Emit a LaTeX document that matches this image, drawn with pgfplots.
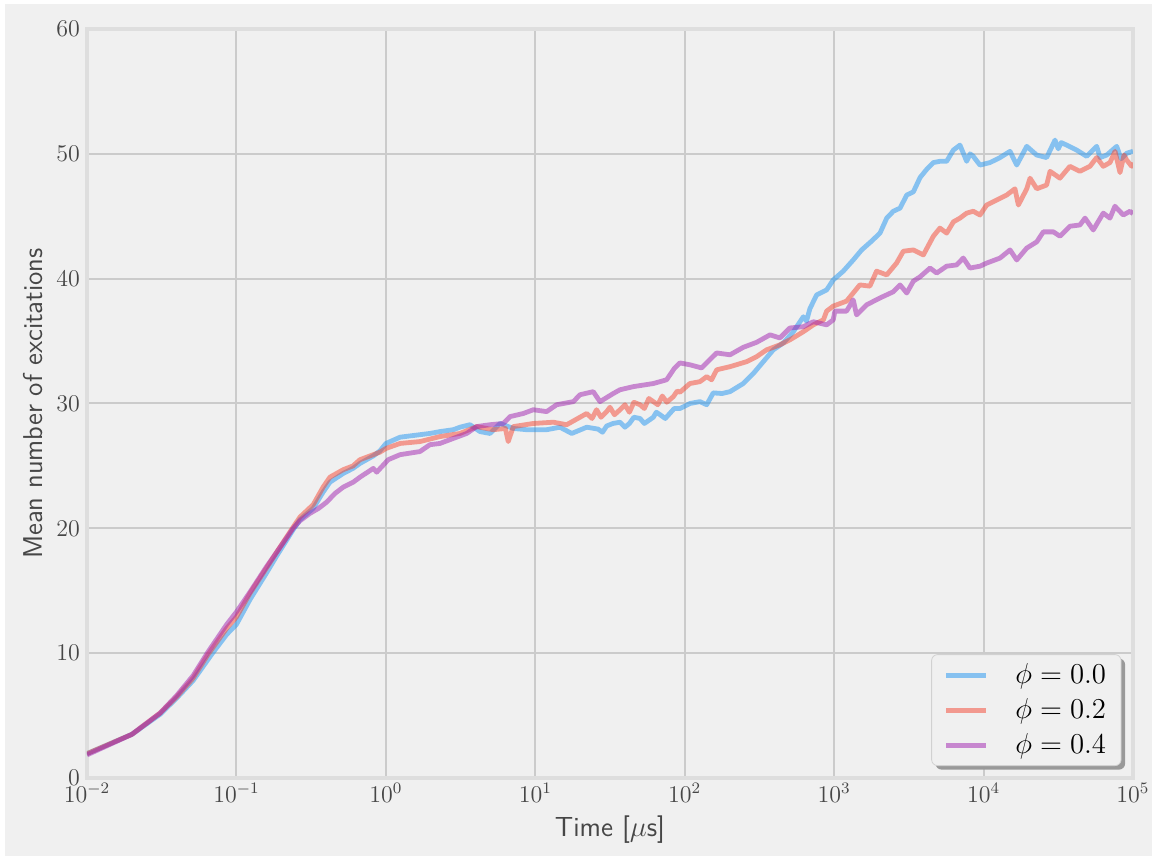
\documentclass[border=0pt]{standalone}
\usepackage{pgfplots}
\pgfplotsset{compat=1.18}
\usetikzlibrary{shadows}
\definecolor{bg}{RGB}{240,240,240}
\definecolor{gridc}{RGB}{203,203,203}
\definecolor{framec}{RGB}{222,222,222}
\definecolor{cblue}{RGB}{30,148,240}
\definecolor{cred}{RGB}{244,68,48}
\definecolor{cpurple}{RGB}{160,32,176}
\definecolor{txt}{RGB}{70,70,70}
\makeatletter
\tikzset{no preactions/.code={\let\tikz@preactions\pgfutil@empty}}
\makeatother

\pgfplotstableread{
lx y
-2.000 1.95
-1.699 3.5
-1.511 5.1
-1.400 6.4
-1.290 7.8
-1.160 10.0
-1.065 11.5
-1.000 12.3
-0.909 14.3
-0.800 16.4
-0.730 17.8
-0.620 19.9
-0.575 20.7
-0.486 21.6
-0.420 22.9
-0.374 23.7
-0.285 24.4
-0.220 24.8
-0.173 25.2
-0.084 25.8
-0.040 26.2
0.001 26.8
0.095 27.3
0.160 27.4
0.228 27.5
0.295 27.6
0.362 27.75
0.451 27.9
0.496 28.1
0.563 28.3
0.630 27.75
0.697 27.6
0.764 28.4
0.853 28.0
0.943 27.9
1.076 27.9
1.165 28.1
1.244 27.6
1.344 28.1
1.420 27.95
1.450 27.7
1.478 28.2
1.520 28.4
1.567 28.5
1.600 28.1
1.630 28.4
1.660 28.9
1.701 28.8
1.730 28.4
1.790 28.9
1.810 29.3
1.835 29.1
1.870 28.8
1.900 29.2
1.930 29.6
1.968 29.6
2.035 30.0
2.102 30.15
2.147 29.9
2.191 30.85
2.250 30.8
2.303 30.95
2.392 31.6
2.459 32.4
2.526 33.35
2.593 34.3
2.660 34.85
2.727 35.75
2.794 36.95
2.815 36.6
2.838 37.6
2.883 38.7
2.950 39.1
2.994 39.9
3.061 40.6
3.128 41.5
3.184 42.3
3.250 43.0
3.307 43.65
3.352 44.85
3.396 45.4
3.441 45.65
3.486 46.7
3.530 46.95
3.575 48.1
3.619 48.75
3.664 49.3
3.708 49.4
3.753 49.4
3.798 50.3
3.842 50.7
3.887 49.4
3.910 50.0
3.931 49.8
3.976 49.1
4.043 49.3
4.110 49.7
4.177 50.2
4.222 49.1
4.289 50.6
4.356 49.9
4.422 49.7
4.478 51.1
4.500 50.4
4.520 50.9
4.556 50.7
4.623 50.3
4.690 49.8
4.757 50.6
4.780 49.7
4.824 49.9
4.891 50.6
4.920 49.6
4.958 50.05
5.000 50.2
}\blue

\pgfplotstableread{
lx y
-2.000 1.95
-1.699 3.5
-1.511 5.2
-1.400 6.5
-1.290 8.0
-1.190 9.9
-1.065 12.0
-1.000 12.9
-0.909 14.8
-0.800 16.8
-0.730 18.1
-0.620 20.1
-0.575 20.9
-0.486 21.9
-0.420 23.3
-0.374 24.1
-0.285 24.7
-0.220 25.0
-0.173 25.5
-0.084 25.9
-0.040 26.1
0.001 26.4
0.095 26.8
0.228 26.95
0.362 27.35
0.496 27.6
0.608 28.15
0.719 27.9
0.800 28.0
0.819 26.95
0.853 28.15
0.987 28.4
1.121 28.5
1.210 28.3
1.344 29.2
1.380 28.8
1.410 29.5
1.440 28.9
1.478 29.35
1.500 29.7
1.530 29.1
1.567 29.5
1.600 29.9
1.630 29.3
1.660 30.1
1.701 29.9
1.730 29.6
1.760 30.4
1.790 30.15
1.820 29.9
1.850 30.6
1.880 30.1
1.924 30.55
1.950 31.0
1.968 30.9
2.035 31.6
2.102 31.75
2.147 32.15
2.180 31.9
2.214 32.7
2.303 32.95
2.414 33.35
2.481 33.75
2.548 34.3
2.637 34.7
2.704 35.1
2.794 35.75
2.861 36.3
2.928 36.7
2.950 37.4
2.994 37.8
3.083 38.2
3.172 39.5
3.239 39.4
3.284 40.6
3.330 40.4
3.352 40.3
3.418 41.25
3.463 42.2
3.530 42.3
3.597 41.9
3.664 43.4
3.708 44.05
3.753 43.65
3.798 44.55
3.842 44.85
3.887 45.25
3.931 45.4
3.976 45.1
4.021 45.9
4.088 46.3
4.155 46.7
4.210 47.2
4.233 45.9
4.289 47.2
4.311 48.05
4.356 47.2
4.422 47.5
4.445 48.6
4.511 48.05
4.578 49.0
4.645 48.6
4.712 49.0
4.757 49.7
4.801 49.0
4.846 49.3
4.880 50.2
4.913 48.5
4.940 49.9
4.958 49.5
4.991 49.0
5.000 49.3
}\red

\pgfplotstableread{
lx y
-2.000 1.85
-1.699 3.5
-1.511 5.2
-1.400 6.6
-1.290 8.2
-1.190 10.1
-1.065 12.3
-1.000 13.3
-0.909 14.9
-0.800 16.9
-0.730 18.1
-0.620 20.0
-0.575 20.6
-0.508 21.2
-0.450 21.6
-0.396 22.1
-0.340 22.8
-0.285 23.3
-0.218 23.7
-0.173 24.1
-0.084 24.8
-0.061 24.5
0.016 25.5
0.095 25.9
0.228 26.15
0.295 26.7
0.362 26.8
0.451 27.2
0.541 27.6
0.608 28.15
0.697 28.3
0.786 28.4
0.831 28.95
0.920 29.2
0.987 29.5
1.076 29.35
1.143 29.9
1.255 30.15
1.299 30.7
1.388 30.95
1.433 30.15
1.522 30.8
1.567 31.1
1.656 31.35
1.790 31.6
1.879 31.9
1.930 32.8
1.968 33.25
2.035 33.1
2.113 32.85
2.214 34.05
2.303 33.9
2.392 34.5
2.481 34.9
2.571 35.5
2.637 35.25
2.704 36.05
2.794 36.15
2.861 36.55
2.950 36.3
2.994 36.7
3.005 37.4
3.083 37.4
3.128 38.3
3.150 37.1
3.217 37.9
3.306 38.45
3.396 38.95
3.441 39.5
3.486 38.85
3.530 39.8
3.575 40.15
3.642 40.85
3.686 40.45
3.753 41.0
3.820 41.1
3.864 41.65
3.909 40.85
3.976 41.0
4.021 41.25
4.110 41.65
4.177 42.3
4.222 41.5
4.289 42.45
4.356 42.95
4.400 43.75
4.467 43.75
4.511 43.4
4.578 44.2
4.645 44.3
4.679 44.85
4.734 43.9
4.801 45.25
4.846 44.85
4.879 45.8
4.935 45.1
4.980 45.4
5.000 45.2
}\purple

\begin{document}
\begin{tikzpicture}
\fill[white] (-43.5pt,-39pt) rectangle (535pt,389pt);
\fill[bg] (-41pt,-39pt) rectangle (532.5pt,387pt);
\begin{axis}[
  at={(0,0)}, anchor=south west,
  scale only axis, width=523pt, height=374.5pt,
  xmin=-2, xmax=5, ymin=0, ymax=60,
  xtick={-2,-1,0,1,2,3,4,5},
  xticklabels={$10^{-2}$,$10^{-1}$,$10^{0}$,$10^{1}$,$10^{2}$,$10^{3}$,$10^{4}$,$10^{5}$},
  ytick={0,10,20,30,40,50,60},
  major tick length=0pt,
  grid=major,
  major grid style={color=gridc, line width=1pt},
  axis line style={color=framec, line width=2pt},
  tick label style={font=\large, color=txt},
  xticklabel style={yshift=1pt},
  xlabel={Time [$\mu$s]},
  ylabel={Mean number of excitations},
  every axis x label/.style={at={(axis description cs:0.5,-0.0694)}, anchor=center,
    font=\fontsize{13.8}{16}\selectfont\sffamily, text=txt},
  every axis y label/.style={at={(axis description cs:-0.0516,0.5)}, rotate=90, anchor=center,
    font=\fontsize{13.6}{16}\selectfont\sffamily, text=txt},
  legend style={at={(0.989,0.016)}, anchor=south east, fill=bg, draw=black!18,
    rounded corners=3pt,
    drop shadow={shadow xshift=2pt, shadow yshift=-2pt, fill=black!40, opacity=1},
    font=\Large, inner xsep=6pt, inner ysep=3pt, row sep=3pt,
    nodes={inner xsep=1.5pt, inner ysep=1.5pt},
    /tikz/every odd column/.append style={column sep=12pt}},
  legend cell align=left,
  legend image code/.code={\draw[no preactions,#1] (0pt,0pt) -- (20pt,0pt);},
]
\addplot[color=cblue, draw opacity=0.5, line width=2.4pt, line join=round] table[x=lx,y=y] {\blue};
\addlegendentry{$\phi = 0.0$}
\addplot[color=cred, draw opacity=0.5, line width=2.4pt, line join=round] table[x=lx,y=y] {\red};
\addlegendentry{$\phi = 0.2$}
\addplot[color=cpurple, draw opacity=0.5, line width=2.4pt, line join=round] table[x=lx,y=y] {\purple};
\addlegendentry{$\phi = 0.4$}
\end{axis}
\end{tikzpicture}
\end{document}
